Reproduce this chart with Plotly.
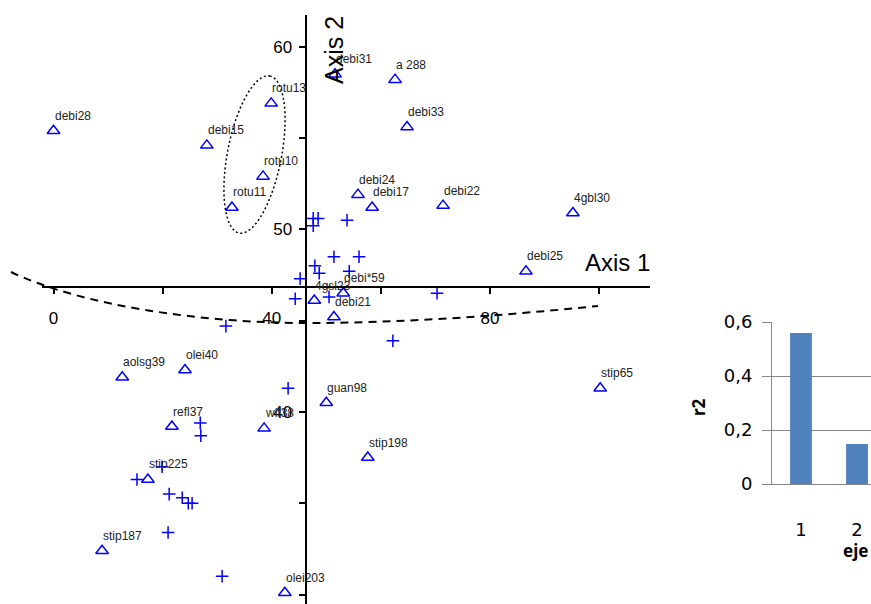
import numpy as np
import plotly.graph_objects as go

# ---- ordination scores: labelled sites (triangles) ----
site_names = ["debi28", "debi15", "rotu13", "rotu10", "rotu11", "debi31", "a 288",
              "debi33", "debi24", "debi17", "debi22", "4gbl30", "debi25", "debi*59",
              "4gsl23", "debi21", "stip65", "guan98", "stip198", "aolsg39", "olei40",
              "refl37", "wlf38", "stip225", "stip187", "olei203"]
site_ax1 = [0.0, 28.1, 39.9, 38.4, 32.7, 51.6, 62.6,
            64.8, 55.8, 58.4, 71.4, 95.2, 86.6, 53.1,
            47.8, 51.4, 100.2, 50.0, 57.6, 12.6, 24.1,
            21.7, 38.6, 17.3, 8.9, 42.4]
site_ax2 = [55.4, 54.6, 56.9, 52.9, 51.2, 58.5, 58.2,
            55.6, 51.9, 51.2, 51.3, 50.9, 47.7, 46.5,
            46.1, 45.2, 41.3, 40.5, 37.5, 41.9, 42.3,
            39.2, 39.1, 36.3, 32.4, 30.1]

# ---- unlabelled plots (crosses) ----
plot_ax1 = [47.6, 48.5, 47.6, 53.8, 51.4, 56.0, 47.9, 48.7, 45.2, 54.2,
            44.3, 50.5, 70.3, 62.2, 43.0, 31.6, 26.9, 27.0, 19.9, 15.3,
            21.2, 23.6, 24.7, 25.4, 21.0, 30.9]
plot_ax2 = [50.6, 50.6, 50.2, 50.5, 48.5, 48.5, 48.0, 47.6, 47.3, 47.7,
            46.2, 46.3, 46.5, 43.9, 41.3, 44.7, 39.4, 38.7, 37.0, 36.3,
            35.5, 35.3, 35.0, 35.0, 33.4, 31.0]

# ---- inset: r2 per axis ----
eje = [1, 2]
r2 = [0.559, 0.148]

# axis ticks
x_ticks = [0, 20, 40, 60, 80, 100]
x_ticktext = ["0", "", "40", "", "80", ""]
y_ticks = [30, 35, 40, 45, 50, 55, 60]
y_ticktext = ["30", "", "40", "", "50", "", "60"]
r2_ticks = [0, 0.2, 0.4, 0.6]
r2_ticktext = ["0", "0,2", "0,4", "0,6"]

W, H = 871, 604
FONT = "Liberation Sans, Arial, sans-serif"
BLUE = "#0000FF"

# main panel geometry
x_dom = [42 / W, 650 / W]
y_dom = [0, 1 - 15 / H]
x_rng = [-2.11, 109.33]
y_rng = [29.48, 61.74]
x_cross, y_cross = 46.37, 46.84   # where the axes intersect

xpos = x_dom[0] + (x_cross - x_rng[0]) / (x_rng[1] - x_rng[0]) * (x_dom[1] - x_dom[0])
ypos = y_dom[0] + (y_cross - y_rng[0]) / (y_rng[1] - y_rng[0]) * (y_dom[1] - y_dom[0])

fig = go.Figure()

fig.add_trace(go.Scatter(
    x=plot_ax1, y=plot_ax2, mode="markers",
    marker=dict(symbol="cross-thin-open", size=9, color=BLUE, line=dict(color=BLUE, width=1.5)),
    showlegend=False, hoverinfo="skip"))

fig.add_trace(go.Scatter(
    x=site_ax1, y=site_ax2, mode="markers",
    marker=dict(symbol="triangle-up-open", size=11, color=BLUE, line=dict(color=BLUE, width=1.5)),
    showlegend=False, hoverinfo="skip"))

annotations = []
for nm, a1, a2 in zip(site_names, site_ax1, site_ax2):
    annotations.append(dict(x=a1, y=a2, xref="x", yref="y", text=nm, showarrow=False,
                            xanchor="left", yanchor="middle", xshift=-1, yshift=15,
                            font=dict(family=FONT, size=12, color="#222")))

# inset bars
fig.add_trace(go.Bar(x=eje, y=r2, width=0.39, marker=dict(color="#4F81BD", line=dict(width=0)),
                     xaxis="x2", yaxis="y2", showlegend=False, hoverinfo="skip"))

# axis names
annotations.append(dict(x=583 / W, y=1 - 262 / H, xref="paper", yref="paper", text="Axis 1",
                        showarrow=False, xanchor="left", yanchor="middle",
                        font=dict(family=FONT, size=24, color="#000")))
annotations.append(dict(x=334 / W, y=1 - 50 / H, xref="paper", yref="paper", text="Axis 2",
                        showarrow=False, xanchor="center", yanchor="middle", textangle=-90,
                        font=dict(family=FONT, size=25, color="#000")))
annotations.append(dict(x=698 / W, y=1 - 407 / H, xref="paper", yref="paper", text="<b>r2</b>",
                        showarrow=False, xanchor="center", yanchor="middle", textangle=-90,
                        font=dict(family="Noto Sans, DejaVu Sans", size=17, color="#000")))
annotations.append(dict(x=855 / W, y=1 - 550 / H, xref="paper", yref="paper", text="<b>eje</b>",
                        showarrow=False, xanchor="center", yanchor="middle",
                        font=dict(family="Noto Sans, DejaVu Sans", size=17, color="#000")))


def px2paper(px, py):
    return px / W, 1 - py / H


# dashed boundary curve (cubic Béziers, page coordinates)
curve = [(11, 272), (80, 305), (200, 323), (307, 323), (400, 323), (500, 316), (598, 306)]
pc = [px2paper(*p) for p in curve]
curve_path = "M{:.5f},{:.5f} C{:.5f},{:.5f} {:.5f},{:.5f} {:.5f},{:.5f} C{:.5f},{:.5f} {:.5f},{:.5f} {:.5f},{:.5f}".format(
    *[v for p in pc for v in p])

# dotted ellipse around the rotu group
cx, cy, ea, eb, tilt = 254.5, 154.5, 80, 27, np.deg2rad(11)
t = np.linspace(0, 2 * np.pi, 121)
ux, uy = np.sin(tilt), -np.cos(tilt)
vx, vy = np.cos(tilt), np.sin(tilt)
ex = cx + ea * np.cos(t) * ux + eb * np.sin(t) * vx
ey = cy + ea * np.cos(t) * uy + eb * np.sin(t) * vy
ell = [px2paper(a, b) for a, b in zip(ex, ey)]
ell_path = "M" + " L".join("{:.5f},{:.5f}".format(a, b) for a, b in ell) + " Z"

shapes = [
    dict(type="path", xref="paper", yref="paper", path=curve_path,
         line=dict(color="#000", width=2, dash="8px,6px")),
    dict(type="path", xref="paper", yref="paper", path=ell_path,
         line=dict(color="#000", width=1.5, dash="2px,2.5px")),
]

fig.update_layout(
    width=W, height=H,
    margin=dict(l=0, r=0, t=0, b=0, pad=0, autoexpand=False),
    paper_bgcolor="white", plot_bgcolor="rgba(0,0,0,0)",
    font=dict(family=FONT, color="#000"),
    annotations=annotations, shapes=shapes,
    xaxis=dict(domain=x_dom, range=x_rng, anchor="free", position=ypos, automargin=False,
               showline=True, linecolor="#000", linewidth=2,
               showgrid=False, zeroline=False,
               tickmode="array", tickvals=x_ticks, ticktext=x_ticktext,
               ticks="outside", ticklen=6, tickwidth=2, tickcolor="#000",
               ticklabelstandoff=10, tickfont=dict(size=17, family=FONT, color="#000")),
    yaxis=dict(domain=y_dom, range=y_rng, anchor="free", position=xpos, automargin=False,
               showline=True, linecolor="#000", linewidth=2,
               showgrid=False, zeroline=False,
               tickmode="array", tickvals=y_ticks, ticktext=y_ticktext,
               ticks="outside", ticklen=6, tickwidth=2, tickcolor="#000",
               ticklabelstandoff=4, tickfont=dict(size=17, family=FONT, color="#000")),
    xaxis2=dict(domain=[772 / W, 1.0], range=[0.482, 2.25], anchor="y2", automargin=False,
                showline=True, linecolor="#888", linewidth=1,
                showgrid=False, zeroline=False, ticks="",
                tickmode="array", tickvals=eje, ticktext=[str(e) for e in eje],
                ticklabelstandoff=29, tickfont=dict(size=18, family="DejaVu Sans", color="#000")),
    yaxis2=dict(domain=[(H - 484) / H, (H - 322) / H], range=[0, 0.6], anchor="x2", automargin=False,
                showline=True, linecolor="#888", linewidth=1,
                showgrid=True, gridcolor="#888", gridwidth=1, zeroline=False,
                tickmode="array", tickvals=r2_ticks, ticktext=r2_ticktext,
                ticks="outside", ticklen=9, tickwidth=1, tickcolor="#888",
                ticklabelstandoff=6, tickfont=dict(size=18, family="DejaVu Sans", color="#000")),
)

fig.write_html("out.html")
